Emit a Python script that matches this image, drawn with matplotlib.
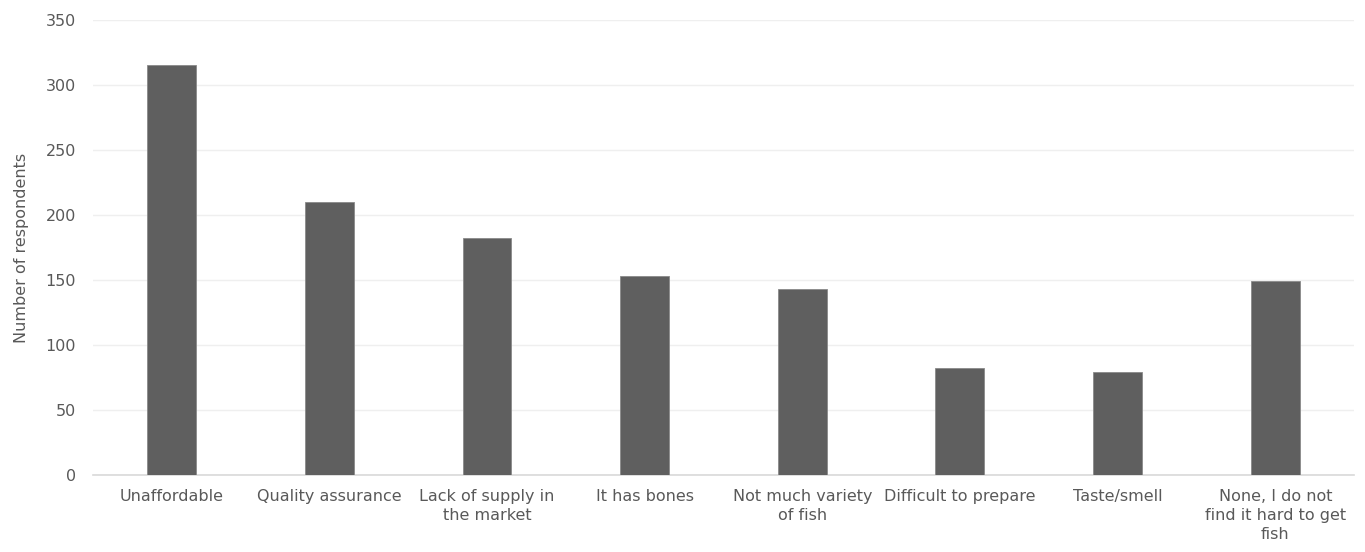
import matplotlib
matplotlib.use('Agg')
import matplotlib.pyplot as plt

reasons = ['Unaffordable', 'Quality assurance', 'Lack of supply in\nthe market',
           'It has bones', 'Not much variety\nof fish', 'Difficult to prepare',
           'Taste/smell', 'None, I do not\nfind it hard to get\nfish']
respondents = [315, 210, 182, 153, 143, 82, 79, 149]
yticks = [0, 50, 100, 150, 200, 250, 300, 350]

text_col = '#595959'
fsize = 11.5
plt.rcParams['font.family'] = 'DejaVu Sans'

fig = plt.figure(figsize=(13.65, 5.52), dpi=100)
ax = fig.add_axes([0.068, 0.1395, 0.924, 0.8243])

x = range(len(reasons))
ax.bar(x, respondents, width=0.31, color='#5f5f5f', edgecolor='#8a8a8a',
       linewidth=0.6, zorder=3)

ax.set_xlim(-0.5, len(reasons) - 0.5)
ax.set_ylim(0, 350)
ax.set_yticks(yticks)
ax.yaxis.grid(True, color='#efefef', linewidth=1.0, zorder=0)
ax.set_axisbelow(True)

for side in ['top', 'right', 'left']:
    ax.spines[side].set_visible(False)
ax.spines['bottom'].set_color('#d9d9d9')
ax.spines['bottom'].set_linewidth(1.2)

ax.set_xticks(list(x))
ax.set_xticklabels(reasons, fontsize=fsize, color=text_col, linespacing=1.35)
ax.tick_params(axis='x', length=0, pad=10)
ax.tick_params(axis='y', length=0, pad=12, labelsize=fsize, labelcolor=text_col)

ax.set_ylabel('Number of respondents', fontsize=fsize, color=text_col, labelpad=12)

fig.savefig('out.png', dpi=100)
